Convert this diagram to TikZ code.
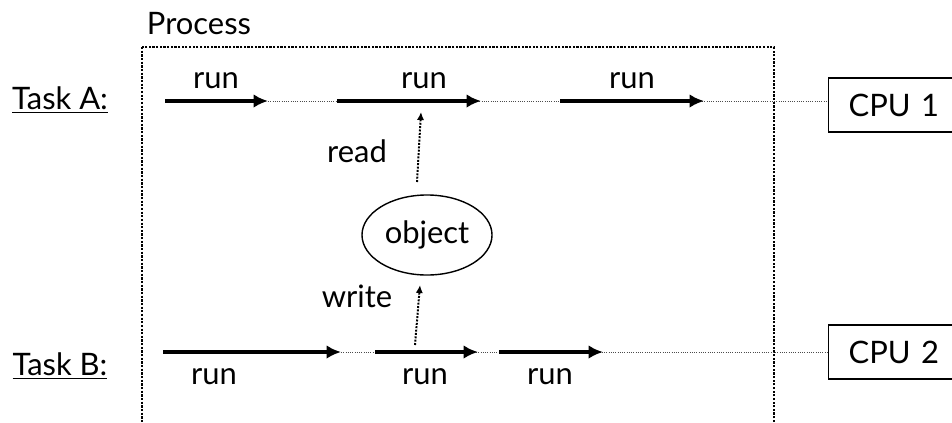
\documentclass[tikz,border=0pt]{standalone}
\usepackage{fontspec}
\setmainfont{Lato}
\usepackage{tikz}
\usetikzlibrary{arrows.meta}
\usetikzlibrary{shapes.geometric}

\begin{document}
\begin{tikzpicture}[x=0.025cm, y=-0.025cm, font=\fontsize{22}{26}\selectfont,
    runarrow/.style={line width=2.4pt, arrows=-{Latex[length=3.6mm, width=3.4mm]}},
    idleline/.style={line width=0.6pt, densely dotted, black!70},
    accessarrow/.style={line width=1.4pt, densely dotted, arrows=-{Latex[length=2mm, width=1.8mm]}},
    cpubox/.style={draw, line width=1pt, anchor=west, minimum height=1.35cm, inner xsep=0.5cm, text width=3cm, align=left}]
          \useasboundingbox (0,0) rectangle (952,422); % Fixes the page

          \draw [densely dotted, line width=1.6pt] (142,47) rectangle (774,445); % Draws the process box
          \node [anchor=west] (process) at (142,24) {Process};

          \node (taskA) at (60,100) {\underline{Task A:}};
          \node (taskB) at (60,366) {\underline{Task B:}};

          \node [cpubox] (cpuA) at (828,105) {CPU 1};
          \node [cpubox] (cpuB) at (828,352) {CPU 2};

          \node [ellipse, draw, line width=1pt, minimum width=3.25cm, minimum height=2cm, inner sep=0pt] (obj) at (427,235) {object};

          \coordinate (a1s) at (165,101); \coordinate (a1e) at (268,101);
          \coordinate (a2s) at (337,101); \coordinate (a2e) at (481,101);
          \coordinate (a3s) at (560,101); \coordinate (a3e) at (704,101);

          \coordinate (b1s) at (163,352); \coordinate (b1e) at (341,352);
          \coordinate (b2s) at (375,352); \coordinate (b2e) at (478,352);
          \coordinate (b3s) at (499,352); \coordinate (b3e) at (603,352);

          \draw [idleline] (a1e) -- (a1e -| cpuA.west);
          \draw [idleline] (b1e) -- (b1e -| cpuB.west);

          \draw [runarrow] (a1s) -- (a1e);
          \draw [runarrow] (a2s) -- (a2e);
          \draw [runarrow] (a3s) -- (a3e);
          \draw [runarrow] (b1s) -- (b1e);
          \draw [runarrow] (b2s) -- (b2e);
          \draw [runarrow] (b3s) -- (b3e);

          \node (runA1) at (216,81) {run};
          \node (runA2) at (424,81) {run};
          \node (runA3) at (632,81) {run};
          \node (runB1) at (214,377) {run};
          \node (runB2) at (425,377) {run};
          \node (runB3) at (550,377) {run};

          \coordinate (rds) at (417,182); \coordinate (rde) at (421,112);
          \coordinate (wrs) at (415,345); \coordinate (wre) at (420,285);

          \draw [accessarrow] (rds) -- (rde);
          \draw [accessarrow] (wrs) -- (wre);
          \node (read) at (357,151) {read};
          \node (write) at (357,296) {write};
        \end{tikzpicture}
\end{document}
